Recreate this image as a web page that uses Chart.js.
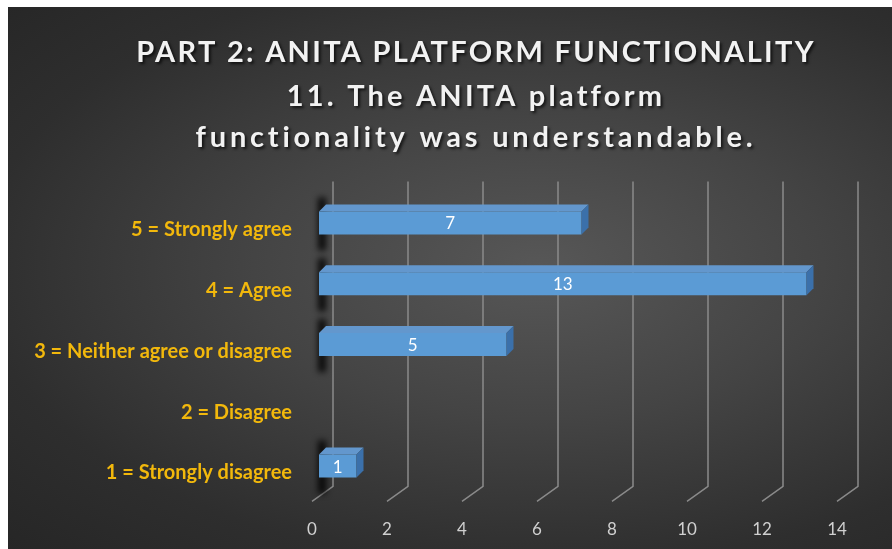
<!DOCTYPE html>
<html>
<head>
<meta charset="utf-8">
<script src="https://cdn.jsdelivr.net/npm/chart.js@4.4.1/dist/chart.umd.min.js"></script>
<style>
  html, body { margin: 0; padding: 0; background: #fff; }
  #wrap {
    position: absolute; left: 8px; top: 7px; width: 884px; height: 542px;
    background: radial-gradient(ellipse farthest-corner at 60% 48%, #575757 0%, #444 38%, #2e2e2e 75%, #262626 100%);
  }
</style>
</head>
<body>
<div id="wrap"><canvas id="myChart" width="884" height="542"></canvas></div>
<script>
const titleLines = ['PART 2: ANITA PLATFORM FUNCTIONALITY', '11. The ANITA platform', 'functionality was understandable.'];
const categories = ['5 = Strongly agree', '4 = Agree', '3 = Neither agree or disagree', '2 = Disagree', '1 = Strongly disagree'];
const responses = [7, 13, 5, 0, 1];
const xTicks = [0, 2, 4, 6, 8, 10, 12, 14];

const depth = 7;

// title drawn by hand so it gets the wide letter spacing
const titlePlugin = {
  id: 'titleLines',
  beforeDraw(chart) {
    const ctx = chart.ctx;
    ctx.save();
    ctx.font = 'bold 29px Lato';
    ctx.fillStyle = '#f2f2f2';
    ctx.textAlign = 'center';
    ctx.textBaseline = 'middle';
    ctx.shadowColor = 'rgba(0,0,0,0.7)';
    ctx.shadowOffsetX = 2;
    ctx.shadowOffsetY = 2;
    ctx.shadowBlur = 3;
    const ys = [46, 90, 131];
    const spacing = ['2.3px', '3.2px', '3.8px'];
    titleLines.forEach((t, i) => {
      ctx.letterSpacing = spacing[i];
      ctx.fillText(t, 468, ys[i]);
    });
    ctx.restore();
  }
};

// slanted 3D gridlines
const gridPlugin = {
  id: 'grid3d',
  beforeDatasetsDraw(chart) {
    const ctx = chart.ctx;
    const xs = chart.scales.x;
    const area = chart.chartArea;
    ctx.save();
    ctx.strokeStyle = '#8a8a8a';
    ctx.lineWidth = 1.5;
    xTicks.forEach(v => {
      const px = xs.getPixelForValue(v);
      ctx.beginPath();
      ctx.moveTo(px + 14, area.top - 11);
      ctx.lineTo(px + 14, area.bottom - 10);
      ctx.lineTo(px - 7, area.bottom + 5);
      ctx.stroke();
    });
    // shadows on the back wall
    const meta = chart.getDatasetMeta(0);
    meta.data.forEach((bar, i) => {
      if (!responses[i]) return;
      const h = bar.height;
      ctx.save();
      ctx.filter = 'blur(3px)';
      ctx.fillStyle = 'rgba(0,0,0,0.85)';
      ctx.fillRect(bar.base - 1, bar.y - h / 2 - 14, 8, h + 30);
      ctx.restore();
    });
    ctx.restore();
  }
};

// top and side faces plus the value labels
const facesPlugin = {
  id: 'faces3d',
  afterDatasetsDraw(chart) {
    const ctx = chart.ctx;
    const meta = chart.getDatasetMeta(0);
    ctx.save();
    meta.data.forEach((bar, i) => {
      if (!responses[i]) return;
      const top = bar.y - bar.height / 2, bot = bar.y + bar.height / 2;
      const b = bar.base, e = bar.x;
      ctx.fillStyle = '#6397cd';
      ctx.beginPath();
      ctx.moveTo(b, top); ctx.lineTo(b + depth, top - depth);
      ctx.lineTo(e + depth, top - depth); ctx.lineTo(e, top);
      ctx.closePath(); ctx.fill();
      ctx.fillStyle = '#3b70aa';
      ctx.beginPath();
      ctx.moveTo(e, top); ctx.lineTo(e + depth, top - depth);
      ctx.lineTo(e + depth, bot - depth); ctx.lineTo(e, bot);
      ctx.closePath(); ctx.fill();
      ctx.font = '17px Lato';
      ctx.fillStyle = '#ffffff';
      ctx.textAlign = 'center';
      ctx.textBaseline = 'middle';
      ctx.fillText(String(responses[i]), (b + e) / 2, bar.y + 1);
    });
    ctx.restore();
  }
};

const ctx = document.getElementById('myChart');
new Chart(ctx, {
  type: 'bar',
  data: {
    labels: categories,
    datasets: [{
      label: 'Responses',
      data: responses,
      backgroundColor(c) {
        const el = c.element;
        if (!el || !Number.isFinite(el.y) || !Number.isFinite(el.height)) return '#5b9bd5';
        const g = c.chart.ctx.createLinearGradient(0, el.y - el.height / 2, 0, el.y + el.height / 2);
        g.addColorStop(0, '#75b0ec');
        g.addColorStop(0.5, '#5fa0e2');
        g.addColorStop(1, '#4b8cd2');
        return g;
      },
      borderWidth: 0,
      barPercentage: 0.38,
      categoryPercentage: 1
    }]
  },
  options: {
    indexAxis: 'y',
    responsive: false,
    animation: false,
    layout: { padding: { top: 185.6, right: 48, left: 0, bottom: 0 } },
    plugins: {
      legend: { display: false },
      tooltip: { enabled: false },
      title: { display: false }
    },
    scales: {
      x: {
        min: 0, max: 14,
        ticks: { stepSize: 2, color: '#d0d0d0', font: { family: 'Lato', size: 17 }, labelOffset: -7, padding: 15 },
        grid: { display: false },
        border: { display: false },
        afterFit(scale) { scale.height = 52.6; }
      },
      y: {
        ticks: { color: '#f2b80c', font: { family: 'Lato', size: 20, weight: 'bold' }, labelOffset: 7, padding: 19 },
        grid: { display: false },
        border: { display: false },
        afterFit(scale) { scale.width = 311; }
      }
    }
  },
  plugins: [titlePlugin, gridPlugin, facesPlugin]
});
</script>
</body>
</html>
